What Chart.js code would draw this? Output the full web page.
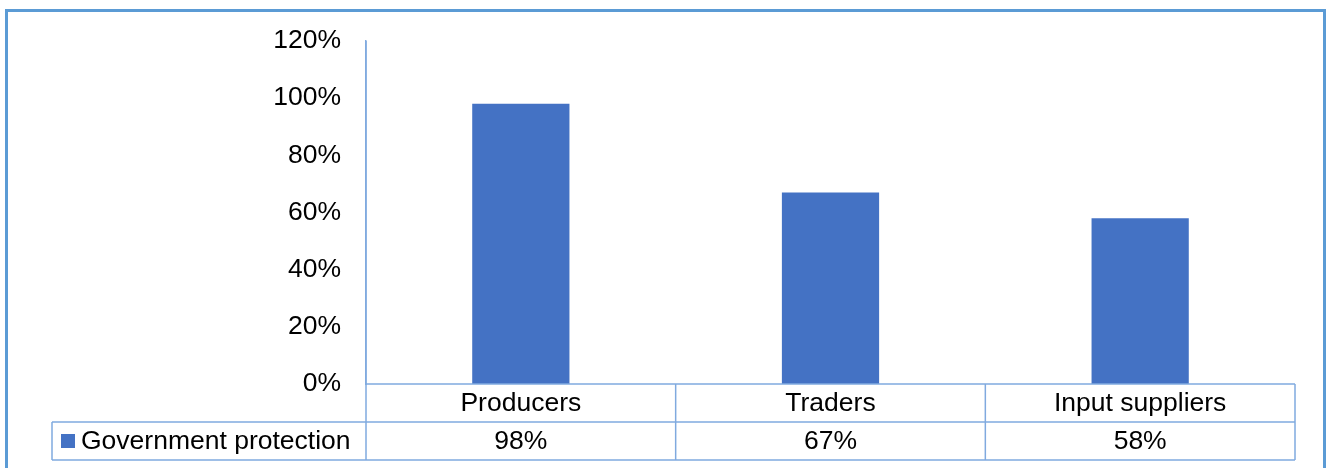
<!DOCTYPE html>
<html>
<head>
<meta charset="utf-8">
<script src="https://cdn.jsdelivr.net/npm/chart.js@4.4.0/dist/chart.umd.min.js"></script>
<style>
  html, body { margin: 0; padding: 0; background: #fff; }
  canvas { display: block; }
</style>
</head>
<body>
<canvas id="chart" width="1327" height="468"></canvas>
<script>
// Data
const categories = ['Producers', 'Traders', 'Input suppliers'];
const seriesName = 'Government protection';
const protection = [0.98, 0.67, 0.58];
const yTicks = [0, 0.2, 0.4, 0.6, 0.8, 1.0, 1.2];

const FONT = '"Liberation Sans", Arial, sans-serif';
const FONT_SIZE = 26.5;
const BAR_COLOR = '#4472C4';
const LINE_COLOR = '#80AADF';
const FRAME_COLOR = '#5B9BD5';

const pct = v => Math.round(v * 100) + '%';

// Outer frame of the chart object
const framePlugin = {
  id: 'frame',
  beforeDraw(chart) {
    const ctx = chart.ctx;
    ctx.save();
    ctx.strokeStyle = FRAME_COLOR;
    ctx.lineWidth = 3;
    ctx.beginPath();
    ctx.moveTo(6.5, 470);
    ctx.lineTo(6.5, 10.5);
    ctx.lineTo(1324.5, 10.5);
    ctx.lineTo(1324.5, 470);
    ctx.stroke();
    ctx.restore();
  }
};

// Data table under the plot: category row, then the series row with its legend key
const dataTablePlugin = {
  id: 'dataTable',
  afterDraw(chart) {
    const ctx = chart.ctx;
    const x = chart.scales.x;
    const area = chart.chartArea;
    const rowH = 38;
    const top = area.bottom;
    const mid = top + rowH;
    const bottom = mid + rowH;
    const legendLeft = 52;
    const half = (x.getPixelForValue(1) - x.getPixelForValue(0)) / 2;

    ctx.save();
    ctx.strokeStyle = LINE_COLOR;
    ctx.lineWidth = 1.5;
    ctx.beginPath();
    // horizontal rules
    ctx.moveTo(area.left, top); ctx.lineTo(area.right, top);
    ctx.moveTo(legendLeft, mid); ctx.lineTo(area.right, mid);
    ctx.moveTo(legendLeft, bottom); ctx.lineTo(area.right, bottom);
    // vertical rules
    ctx.moveTo(legendLeft, mid); ctx.lineTo(legendLeft, bottom);
    ctx.moveTo(area.left, area.top); ctx.lineTo(area.left, bottom);
    categories.forEach((c, i) => {
      const r = x.getPixelForValue(i) + half;
      ctx.moveTo(r, top); ctx.lineTo(r, bottom);
    });
    ctx.stroke();

    ctx.fillStyle = '#000';
    ctx.font = FONT_SIZE + 'px ' + FONT;
    ctx.textBaseline = 'middle';
    ctx.textAlign = 'center';
    categories.forEach((c, i) => {
      const cx = x.getPixelForValue(i);
      ctx.fillText(c, cx, top + rowH / 2 + 1);
      ctx.fillText(pct(protection[i]), cx, mid + rowH / 2 + 1);
    });

    // legend key
    ctx.fillStyle = BAR_COLOR;
    ctx.fillRect(61, mid + 12, 14, 14);
    ctx.fillStyle = '#000';
    ctx.textAlign = 'left';
    ctx.fillText(seriesName, 81, mid + rowH / 2 + 1);
    ctx.restore();
  }
};

new Chart(document.getElementById('chart'), {
  type: 'bar',
  data: {
    labels: categories,
    datasets: [{
      label: seriesName,
      data: protection,
      backgroundColor: BAR_COLOR,
      borderWidth: 0,
      categoryPercentage: 1,
      barPercentage: 0.314
    }]
  },
  options: {
    responsive: false,
    animation: false,
    events: [],
    layout: { padding: { left: 0, right: 32, top: 39, bottom: 84 } },
    plugins: {
      legend: { display: false },
      tooltip: { enabled: false }
    },
    scales: {
      x: { display: false },
      y: {
        min: 0,
        max: 1.2,
        afterBuildTicks(scale) { scale.ticks = yTicks.map(v => ({ value: v })); },
        afterFit(scale) { scale.width = 366; },
        grid: { display: false, drawTicks: false },
        border: { display: true, color: LINE_COLOR, width: 1.5 },
        ticks: {
          padding: 25,
          color: '#000',
          font: { family: FONT, size: FONT_SIZE },
          callback: v => pct(v)
        }
      }
    }
  },
  plugins: [framePlugin, dataTablePlugin]
});
</script>
</body>
</html>
